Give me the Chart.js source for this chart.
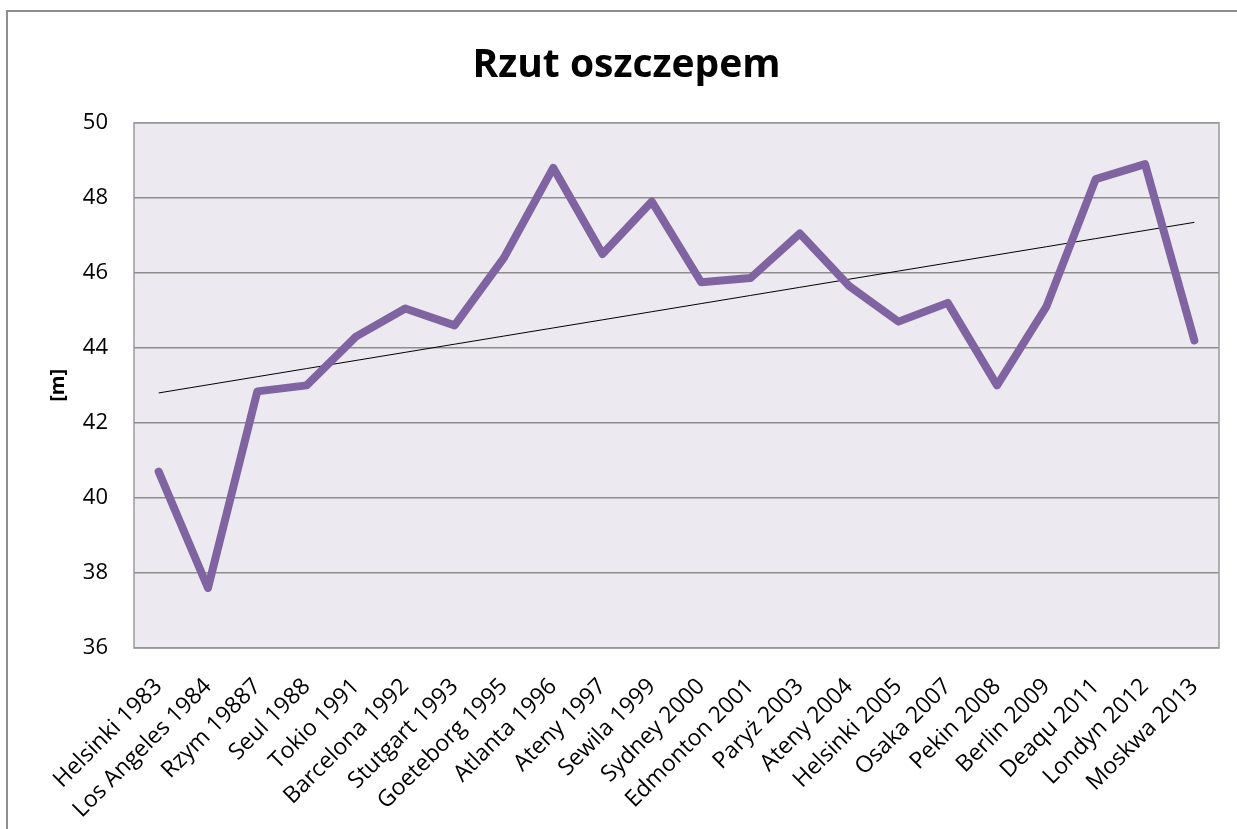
<!DOCTYPE html>
<html>
<head>
<meta charset="utf-8">
<script src="https://cdn.jsdelivr.net/npm/chart.js@4/dist/chart.umd.min.js"></script>
<style>
  html, body { margin: 0; padding: 0; background: #fff; overflow: hidden; }
  #ramka { position: absolute; left: 6px; top: 10px; width: 1400px; height: 1000px; border: 2px solid #8e8e8e; }
  #wrap { position: absolute; left: 0; top: 0; width: 1237px; height: 829px; }
</style>
</head>
<body>
<div id="ramka"></div>
<div id="wrap"><canvas id="chart" width="1237" height="829"></canvas></div>
<script>
const kategorie = ["Helsinki 1983", "Los Angeles 1984", "Rzym 19887", "Seul 1988", "Tokio 1991",
    "Barcelona 1992", "Stutgart 1993", "Goeteborg 1995", "Atlanta 1996", "Ateny 1997", "Sewila 1999",
    "Sydney 2000", "Edmonton 2001", "Paryż 2003", "Ateny 2004", "Helsinki 2005", "Osaka 2007",
    "Pekin 2008", "Berlin 2009", "Deaqu 2011", "Londyn 2012", "Moskwa 2013"];
const wyniki = [40.7, 37.6, 42.84, 43.0, 44.3, 45.05, 44.6, 46.4, 48.8, 46.5, 47.9,
    45.75, 45.86, 47.05, 45.65, 44.7, 45.2, 43.0, 45.1, 48.5, 48.9, 44.2];
const tytul = "Rzut oszczepem";
const tytulOsiY = "[m]";
const skalaY = [36, 50, 2];

// liniowa linia trendu (najmniejsze kwadraty)
const n = wyniki.length;
const sx = wyniki.reduce((a, _, i) => a + i, 0);
const sy = wyniki.reduce((a, v) => a + v, 0);
const sxy = wyniki.reduce((a, v, i) => a + i * v, 0);
const sxx = wyniki.reduce((a, _, i) => a + i * i, 0);
const b = (n * sxy - sx * sy) / (n * sxx - sx * sx);
const a0 = (sy - b * sx) / n;
const trend = wyniki.map((_, i) => a0 + b * i);

const tloWykresu = {
    id: "tloWykresu",
    beforeDraw(chart) {
        const {ctx, chartArea: c} = chart;
        ctx.save();
        ctx.fillStyle = "#eceaf0";
        ctx.fillRect(c.left, c.top, c.right - c.left, c.bottom - c.top);
        ctx.restore();
    },
    afterDraw(chart) {
        const {ctx, chartArea: c} = chart;
        ctx.save();
        ctx.strokeStyle = "#9a9a9a";
        ctx.lineWidth = 1.5;
        ctx.strokeRect(c.left, c.top, c.right - c.left, c.bottom - c.top);
        ctx.restore();
    }
};

const ctx = document.getElementById("chart").getContext("2d");
new Chart(ctx, {
    type: "line",
    data: {
        labels: kategorie,
        datasets: [
            {
                data: wyniki,
                borderColor: "#8064a2",
                borderWidth: 8,
                borderCapStyle: "round",
                borderJoinStyle: "round",
                pointRadius: 0,
                tension: 0,
            },
            {
                data: trend,
                borderColor: "#000",
                borderWidth: 1,
                pointRadius: 0,
                tension: 0,
            },
        ],
    },
    options: {
        responsive: false,
        animation: false,
        layout: {padding: {left: 34, right: 18, top: 0, bottom: 0}},
        plugins: {
            legend: {display: false},
            tooltip: {enabled: false},
            title: {
                display: true,
                text: tytul,
                color: "#000",
                font: {family: "Open Sans", size: 39, weight: "bold"},
                padding: {top: 42, bottom: 34},
            },
        },
        scales: {
            x: {
                offset: true,
                grid: {display: false},
                border: {display: false},
                ticks: {
                    autoSkip: false,
                    minRotation: 45,
                    maxRotation: 45,
                    color: "#000",
                    padding: 17,
                    font: {family: "Open Sans", size: 23},
                },
                afterFit: (s) => { s.height = 181; s.paddingRight = 0; },
            },
            y: {
                min: skalaY[0],
                max: skalaY[1],
                ticks: {
                    stepSize: skalaY[2],
                    color: "#000",
                    padding: 26,
                    font: {family: "Open Sans", size: 22},
                },
                grid: {color: "#8c8c8c", lineWidth: 1.5, drawTicks: false},
                border: {display: false},
                title: {
                    display: true,
                    text: tytulOsiY,
                    color: "#000",
                    font: {family: "Open Sans", size: 20, weight: "bold"},
                    padding: {top: 12},
                },
                afterFit: (s) => { s.width = 100; },
            },
        },
    },
    plugins: [tloWykresu],
});
</script>
</body>
</html>
